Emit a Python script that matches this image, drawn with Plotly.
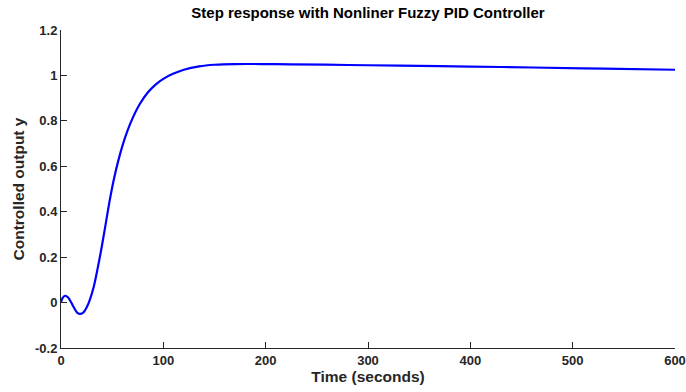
import plotly.graph_objects as go

# Data
time_s = [0, 1.5, 4, 7, 10, 13, 16, 19, 22, 25, 28, 32, 36, 40, 44, 48, 52, 56, 60, 65,
          70, 77, 85, 93, 100, 110, 120, 135, 150, 170, 200, 224, 280, 331, 400, 461,
          530, 600]
output_y = [0, 0.02, 0.03, 0.022, 0.0, -0.025, -0.045, -0.05, -0.043, -0.022, 0.01,
            0.07, 0.155, 0.25, 0.355, 0.46, 0.55, 0.625, 0.69, 0.757, 0.812, 0.874,
            0.926, 0.962, 0.985, 1.008, 1.025, 1.04, 1.047, 1.05, 1.05, 1.049, 1.046,
            1.043, 1.039, 1.035, 1.03, 1.025]

x_ticks = [0, 100, 200, 300, 400, 500, 600]
x_tick_labels = ["0", "100", "200", "300", "400", "500", "600"]
y_ticks = [-0.2, 0, 0.2, 0.4, 0.6, 0.8, 1.0, 1.2]
y_tick_labels = ["-0.2", "0", "0.2", "0.4", "0.6", "0.8", "1", "1.2"]

axis_color = "#262626"
font_family = "Liberation Sans, Arial, sans-serif"

fig = go.Figure()
fig.add_trace(go.Scatter(
    x=time_s, y=output_y, mode="lines",
    line=dict(color="#0000FF", width=2.2, shape="spline", smoothing=1.0),
    showlegend=False, hoverinfo="skip",
))

axis_common = dict(
    showgrid=False, zeroline=False, showline=True, linecolor=axis_color, linewidth=1,
    ticks="inside", ticklen=6, tickcolor=axis_color, tickwidth=1,
    tickfont=dict(family=font_family, size=13, color=axis_color, weight="bold"),
    mirror=False, automargin=False,
)

fig.update_layout(
    width=686, height=392,
    margin=dict(l=61, r=11, t=30, b=44, autoexpand=False),
    paper_bgcolor="white", plot_bgcolor="white",
    title=dict(
        text="Step response with Nonliner Fuzzy PID Controller",
        x=(61 + 675) / 2 / 686, xanchor="center", y=1 - 13 / 392, yanchor="middle",
        font=dict(family=font_family, size=15, color="black", weight="bold"),
        automargin=False,
    ),
    xaxis=dict(
        range=[0, 600], tickvals=x_ticks, ticktext=x_tick_labels,
        title=dict(text="Time (seconds)", standoff=3,
                   font=dict(family=font_family, size=15.5, color=axis_color, weight="bold")),
        **axis_common,
    ),
    yaxis=dict(
        range=[-0.2, 1.2], tickvals=y_ticks, ticktext=y_tick_labels,
        title=dict(text="Controlled output y", standoff=6,
                   font=dict(family=font_family, size=15.5, color=axis_color, weight="bold")),
        **axis_common,
    ),
)

fig.write_html(
    "out.html",
    config={"displayModeBar": False},
    post_script="document.body.style.margin='0';document.body.style.padding='0';",
)
